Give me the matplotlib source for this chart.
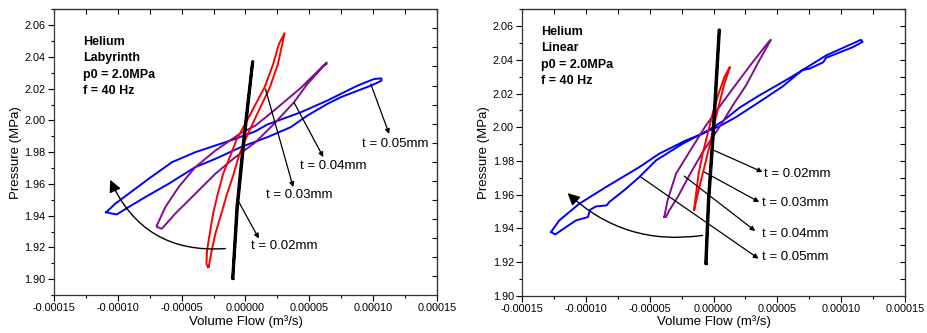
import matplotlib
matplotlib.use('Agg')
import matplotlib.pyplot as plt
from matplotlib.ticker import MultipleLocator, FormatStrFormatter

plt.rcParams['font.family'] = ['Liberation Sans', 'DejaVu Sans']

# flow values are in 1e-5 m^3/s, pressure in MPa

# ---- Helium, labyrinth seal ----
lab_black_q = [-0.98, -0.62, -0.10, 0.58, 0.54, -0.16, -0.68, -1.01, -0.98]
lab_black_p = [1.9004, 1.9455, 1.9873, 2.0372, 2.0365, 1.9873, 1.9455, 1.9010, 1.9004]

lab_red_q = [-2.88, -2.64, -2.36, -1.89, -1.44, -0.92, -0.55, -0.05, 0.92, 1.91, 2.54, 2.88, 3.06,
             2.62, 2.17, 1.49, 0.39, -0.73, -1.23, -1.75, -2.17, -2.54, -2.80, -3.01, -3.06, -2.96, -2.88]
lab_red_p = [1.9077, 1.9182, 1.9287, 1.9413, 1.9538, 1.9664, 1.9769, 1.9873, 2.0041, 2.0208, 2.0355, 2.0481, 2.0550,
             2.0481, 2.0355, 2.0208, 2.0041, 1.9873, 1.9769, 1.9664, 1.9538, 1.9413, 1.9287, 1.9182, 1.9098, 1.9077, 1.9077]

lab_purple_q = [-6.94, -6.28, -5.24, -3.93, -2.36, -0.39, 0.79, 2.23, 4.32, 6.36,
                6.36, 6.15, 4.84, 3.80, 2.23, 0.79, -0.79, -2.36, -3.93, -5.50, -6.55, -6.94, -6.94]
lab_purple_p = [1.9339, 1.9454, 1.9580, 1.9706, 1.9810, 1.9919, 1.9968, 2.0062, 2.0204, 2.0365,
                2.0355, 2.0345, 2.0229, 2.0114, 1.9978, 1.9863, 1.9769, 1.9664, 1.9538, 1.9413, 1.9318, 1.9329, 1.9339]

lab_blue_q = [-10.92, -10.21, -9.16, -7.59, -5.76, -3.93, -2.36, -0.79, 0.79, 1.70, 4.32, 6.41, 7.46, 8.77, 10.08, 10.65,
              10.65, 9.82, 8.77, 7.46, 6.41, 4.84, 3.53, 1.70, -0.39, -2.36, -3.93, -6.02, -7.85, -9.16, -10.08, -10.47,
              -10.86, -10.92]
lab_blue_p = [1.9421, 1.9475, 1.9538, 1.9632, 1.9737, 1.9800, 1.9842, 1.9884, 1.9932, 1.9974, 2.0051, 2.0125, 2.0167,
              2.0219, 2.0261, 2.0265,
              2.0250, 2.0219, 2.0187, 2.0146, 2.0104, 2.0030, 1.9957, 1.9894, 1.9831, 1.9758, 1.9706, 1.9601, 1.9517,
              1.9454, 1.9408, 1.9413, 1.9421, 1.9421]

# ---- Helium, linear seal ----
lin_black_q = [-0.58, -0.37, 0.03, 0.47, 0.42, -0.03, -0.42, -0.63, -0.58]
lin_black_p = [1.9190, 1.9566, 2.0001, 2.0578, 2.0578, 2.0001, 1.9566, 1.9190, 1.9190]

lin_red_q = [-1.52, -1.12, -0.73, -0.34, 0.05, 0.44, 0.84, 1.28,
             1.18, 0.84, 0.39, -0.08, -0.47, -0.86, -1.18, -1.44, -1.52]
lin_red_p = [1.9510, 1.9645, 1.9763, 1.9882, 2.0020, 2.0139, 2.0258, 2.0357,
             2.0347, 2.0297, 2.0199, 2.0080, 1.9961, 1.9843, 1.9724, 1.9566, 1.9510]

lin_purple_q = [-3.87, -3.61, -2.95, -1.91, -0.60, 1.49, 3.06, 4.36,
                4.49, 3.58, 2.54, 1.49, 0.71, -0.86, -1.91, -2.82, -3.48, -3.74, -3.87]
lin_purple_p = [1.9467, 1.9566, 1.9724, 1.9852, 2.0011, 2.0228, 2.0386, 2.0511,
                2.0519, 2.0396, 2.0248, 2.0129, 2.0030, 1.9852, 1.9714, 1.9585, 1.9506, 1.9467, 1.9467]

lin_blue_q = [-12.75, -12.10, -10.53, -8.44, -5.83, -4.26, -2.17, -0.86, 0.71, 2.01, 3.58, 5.41, 6.72, 8.81, 10.37, 11.55,
              11.68, 10.90, 8.81, 8.60, 7.50, 6.98, 5.41, 3.84, 1.75, 0.44, -0.86, -2.43, -4.52, -5.83, -6.87, -8.18,
              -8.39, -9.22, -9.69, -9.85, -10.79, -11.58, -12.41, -12.75]
lin_blue_p = [1.9378, 1.9447, 1.9546, 1.9645, 1.9763, 1.9843, 1.9922, 1.9961, 2.0036, 2.0115, 2.0189, 2.0268, 2.0327,
              2.0426, 2.0479, 2.0519,
              2.0507, 2.0475, 2.0412, 2.0386, 2.0347, 2.0341, 2.0242, 2.0163, 2.0060, 2.0005, 1.9965, 1.9902, 1.9803,
              1.9704, 1.9635, 1.9556, 1.9536, 1.9530, 1.9510, 1.9467, 1.9447, 1.9407, 1.9364, 1.9378]

gap_labels = ['t = 0.02mm', 't = 0.03mm', 't = 0.04mm', 't = 0.05mm']

# annotation arrows: (text x, text y), (arrow from), (arrow to)
lab_text_xy = [(0.45, 1.9207), (1.57, 1.9532), (4.24, 1.9716), (9.16, 1.9852)]
lab_arrow_from = [(-0.52, 1.9486), (1.57, 2.0198), (3.80, 2.0114), (9.82, 2.0229)]
lab_arrow_to = [(1.05, 1.9256), (3.74, 1.9580), (6.10, 1.9769), (11.26, 1.9915)]

lin_text_xy = [(3.97, 1.9724), (3.79, 1.9550), (3.79, 1.9364), (3.79, 1.9229)]
lin_arrow_from = [(0.05, 1.9862), (-0.73, 1.9734), (-2.30, 1.9710), (-5.70, 1.9704)]
lin_arrow_to = [(3.84, 1.9734), (3.58, 1.9556), (3.27, 1.9384), (3.53, 1.9220)]

# big curved arrow: start, head
lab_sweep = [(-1.57, 1.9193), (-10.60, 1.9626)]
lin_sweep = [(-0.86, 1.9358), (-11.45, 1.9609)]

lab_info = ['Helium', 'Labyrinth', 'p0 = 2.0MPa', 'f = 40 Hz']
lab_info_xy = (-12.70, [2.0497, 2.0393, 2.0288, 2.0183])
lin_info = ['Helium', 'Linear', 'p0 = 2.0MPa', 'f = 40 Hz']
lin_info_xy = (-13.53, [2.0568, 2.0469, 2.0371, 2.0276])

colors = {'black': 'black', 'red': '#ff0000', 'purple': '#80108f', 'blue': '#0000ff'}
E = 1e-5


def panel(ax, loops, text_xy, a_from, a_to, sweep, rad, info, info_xy, ylim, right_div):
    for q, p, c in loops:
        lw = 2.0 if c == 'black' else 1.4
        ax.plot([v * E for v in q], p, color=colors[c], lw=lw, solid_joinstyle='round')
    for lab, txy, af, at in zip(gap_labels, text_xy, a_from, a_to):
        ax.annotate('', xy=(at[0] * E, at[1]), xytext=(af[0] * E, af[1]),
                    arrowprops=dict(arrowstyle='-|>', color='black', lw=0.9,
                                    mutation_scale=7, shrinkA=0, shrinkB=0))
        ax.text(txy[0] * E, txy[1], lab, fontsize=9.5, va='center', ha='left')
    ax.annotate('', xy=(sweep[1][0] * E, sweep[1][1]), xytext=(sweep[0][0] * E, sweep[0][1]),
                arrowprops=dict(arrowstyle='-|>', color='black', lw=1.0, mutation_scale=18,
                                shrinkA=0, shrinkB=0, connectionstyle='arc3,rad=%.2f' % rad))
    for s, y in zip(info, info_xy[1]):
        ax.text(info_xy[0] * E, y, s, fontsize=9, fontweight='bold', va='center', ha='left')

    ax.set_xlim(-0.00015, 0.00015)
    ax.set_ylim(*ylim)
    ax.xaxis.set_major_locator(MultipleLocator(0.00005))
    ax.xaxis.set_minor_locator(MultipleLocator(0.000025))
    ax.xaxis.set_major_formatter(FormatStrFormatter('%.5f'))
    ax.yaxis.set_major_locator(MultipleLocator(0.02))
    ax.yaxis.set_minor_locator(MultipleLocator(0.01))
    ax.yaxis.set_major_formatter(FormatStrFormatter('%.2f'))
    ax.tick_params(which='major', direction='out', length=4, width=0.8, labelsize=7.8, pad=2)
    ax.tick_params(which='minor', direction='out', length=2.5, width=0.8)
    ax.set_xlabel('Volume Flow (m³/s)', fontsize=9.5, labelpad=1)
    ax.set_ylabel('Pressure (MPa)', fontsize=9.5, labelpad=2)
    for sp in ax.spines.values():
        sp.set_linewidth(0.9)
        sp.set_color('#333333')

    top = ax.secondary_xaxis('top')
    top.xaxis.set_major_locator(MultipleLocator(0.000025))
    top.tick_params(direction='in', length=3.5, width=0.8, labeltop=False)
    if right_div:
        lo, hi = ylim
        step = (hi - lo) / right_div
        right = ax.secondary_yaxis('right', functions=(lambda y: (y - lo) / step, lambda v: lo + v * step))
        right.set_yticks(range(1, right_div))
    else:
        right = ax.secondary_yaxis('right')
        right.yaxis.set_major_locator(MultipleLocator(0.01))
    right.tick_params(direction='in', length=3.5, width=0.8, labelright=False)
    right.yaxis.set_minor_locator(plt.NullLocator())


fig = plt.figure(figsize=(9.27, 3.33), dpi=100)
ax1 = fig.add_axes([0.0583, 0.114, 0.413, 0.858])
ax2 = fig.add_axes([0.5634, 0.112, 0.4128, 0.860])

panel(ax1, [(lab_blue_q, lab_blue_p, 'blue'), (lab_purple_q, lab_purple_p, 'purple'),
            (lab_red_q, lab_red_p, 'red'), (lab_black_q, lab_black_p, 'black')],
      lab_text_xy, lab_arrow_from, lab_arrow_to, lab_sweep, -0.35, lab_info, lab_info_xy, (1.89, 2.07), 15)
panel(ax2, [(lin_blue_q, lin_blue_p, 'blue'), (lin_purple_q, lin_purple_p, 'purple'),
            (lin_red_q, lin_red_p, 'red'), (lin_black_q, lin_black_p, 'black')],
      lin_text_xy, lin_arrow_from, lin_arrow_to, lin_sweep, -0.24, lin_info, lin_info_xy, (1.90, 2.07), None)

fig.savefig('out.png', dpi=100)
